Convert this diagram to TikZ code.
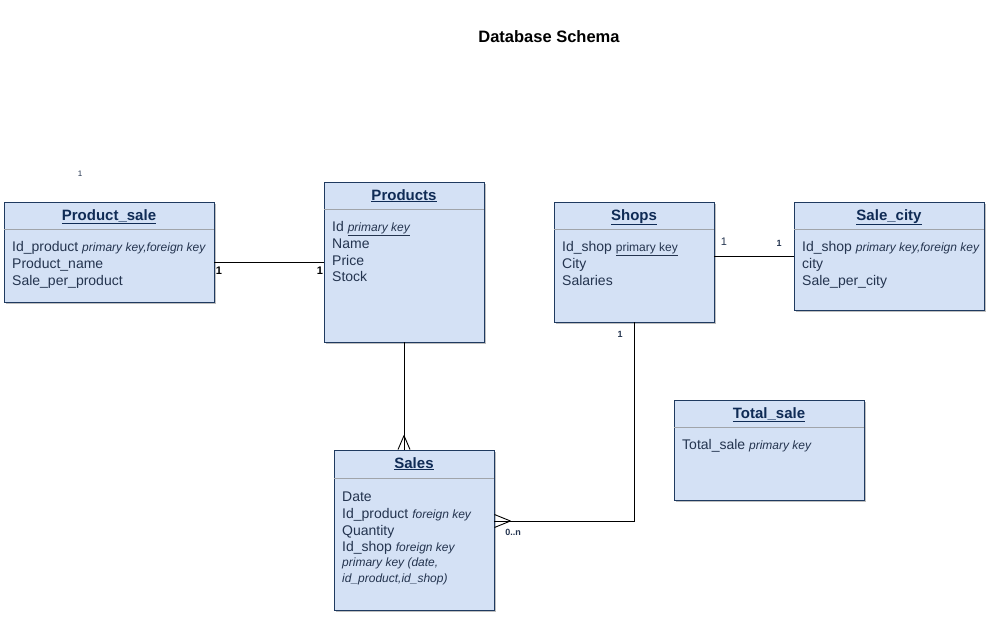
\documentclass[tikz,border=0pt]{standalone}
\usepackage{fontspec}
\setmainfont{Liberation Sans}
\usetikzlibrary{shadows}
\definecolor{boxfill}{HTML}{D4E1F5}
\definecolor{boxline}{HTML}{1F3A60}
\definecolor{txt}{HTML}{24344F}
\definecolor{hdr}{HTML}{0F2B55}
\definecolor{sepc}{HTML}{A0A4AA}
\newcommand\kw[1]{{\fontsize{12}{14}\selectfont\itshape #1}}
\newcommand\ukw[1]{{\fontsize{12}{14}\selectfont #1}}
\begin{document}
\begin{tikzpicture}[x=1pt,y=-1pt,
  tbl/.style={draw=boxline,fill=boxfill,line width=0.9pt,inner sep=0pt,
    drop shadow={shadow xshift=2pt,shadow yshift=-2pt,opacity=0.25,fill=black}},
  sepline/.style={draw=sepc,line width=0.9pt},
  hdrtext/.style={anchor=base,inner sep=0pt,text=hdr,font=\fontsize{15}{17}\selectfont\bfseries},
  attr/.style={anchor=base west,inner sep=0pt,text=txt,font=\fontsize{14}{17}\selectfont},
  conn/.style={draw=black,line width=0.9pt},
  card/.style={inner sep=0pt,font=\fontsize{9}{10}\selectfont\bfseries,text=txt},
]
\useasboundingbox (0,0) rectangle (991,618);
\fill[white] (0,0) rectangle (991,618);

\node[inner sep=0pt,font=\fontsize{16.5}{19}\selectfont\bfseries] (title) at (549,37) {Database Schema};
\node[inner sep=0pt,font=\fontsize{8}{9}\selectfont,text=txt] (stray) at (80,174) {1};

% Product_sale
\node[tbl,minimum width=210pt,minimum height=100pt] (ps) at (109,252) {};
\draw[sepline] ([yshift=-28pt]ps.north west) -- ([yshift=-28pt]ps.north east);
\node[hdrtext] (psh) at (109,220) {\underline{Product\_sale}};
\node[attr] (ps1) at (12,251) {Id\_product \kw{primary key,foreign key}};
\node[attr] (ps2) at (12,268) {Product\_name};
\node[attr] (ps3) at (12,285) {Sale\_per\_product};

% Products
\node[tbl,minimum width=160pt,minimum height=160pt] (pr) at (404,262) {};
\draw[sepline] ([yshift=-28pt]pr.north west) -- ([yshift=-28pt]pr.north east);
\node[hdrtext] (prh) at (404,200) {\underline{Products}};
\node[attr] (pr1) at (332,231) {Id \kw{\underline{primary key}}};
\node[attr] (pr2) at (332,248) {Name};
\node[attr] (pr3) at (332,265) {Price};
\node[attr] (pr4) at (332,281) {Stock};

% Shops
\node[tbl,minimum width=160pt,minimum height=120pt] (sh) at (634,262) {};
\draw[sepline] ([yshift=-28pt]sh.north west) -- ([yshift=-28pt]sh.north east);
\node[hdrtext] (shh) at (634,220) {\underline{Shops}};
\node[attr] (sh1) at (562,251) {Id\_shop \ukw{\underline{primary key}}};
\node[attr] (sh2) at (562,268) {City};
\node[attr] (sh3) at (562,285) {Salaries};

% Sale_city
\node[tbl,minimum width=190pt,minimum height=108pt] (sc) at (889,256) {};
\draw[sepline] ([yshift=-28pt]sc.north west) -- ([yshift=-28pt]sc.north east);
\node[hdrtext] (sch) at (889,220) {\underline{Sale\_city}};
\node[attr] (sc1) at (802,251) {Id\_shop \kw{primary key,foreign key}};
\node[attr] (sc2) at (802,268) {city};
\node[attr] (sc3) at (802,285) {Sale\_per\_city};

% Sales
\node[tbl,minimum width=160pt,minimum height=160pt] (sa) at (414,530) {};
\draw[sepline] ([yshift=-29pt]sa.north west) -- ([yshift=-29pt]sa.north east);
\node[hdrtext] (sah) at (414,468) {\underline{Sales}};
\node[attr] (sa1) at (342,501) {Date};
\node[attr] (sa2) at (342,518) {Id\_product \kw{foreign key}};
\node[attr] (sa3) at (342,535) {Quantity};
\node[attr] (sa4) at (342,551) {Id\_shop \kw{foreign key}};
\node[attr] (sa5) at (342,566) {\kw{primary key (date,}};
\node[attr] (sa6) at (342,582) {\kw{id\_product,id\_shop)}};

% Total_sale
\node[tbl,minimum width=190pt,minimum height=100pt] (ts) at (769,450) {};
\draw[sepline] ([yshift=-28pt]ts.north west) -- ([yshift=-28pt]ts.north east);
\node[hdrtext] (tsh) at (769,418) {\underline{Total\_sale}};
\node[attr] (ts1) at (682,449) {Total\_sale \kw{primary key}};

% Product_sale -- Products
\draw[conn] (ps.east |- pr.west) -- (pr.west);
\node[card,font=\fontsize{11}{12}\selectfont\bfseries,text=black] (c1) at (219,271) {1};
\node[card,font=\fontsize{11}{12}\selectfont\bfseries,text=black] (c2) at (320,271) {1};

% Shops -- Sale_city
\draw[conn] (sh.east |- sc.west) -- (sc.west);
\node[card,font=\fontsize{11}{12}\selectfont,text=txt] (c3) at (724,242) {1};
\node[card] (c4) at (779,243) {1};

% Products -- Sales
\coordinate (saT) at (pr.south |- sa.north);
\draw[conn] (pr.south) -- (saT);
\draw[conn] ([yshift=14pt]saT) -- ([xshift=-6pt]saT);
\draw[conn] ([yshift=14pt]saT) -- ([xshift=6pt]saT);

% Shops -- Sales
\coordinate (saR) at ([yshift=9pt]sa.east);
\draw[conn] (sh.south) -- (sh.south |- saR) -- (saR);
\draw[conn] ([xshift=16pt]saR) -- ([yshift=6.5pt]saR);
\draw[conn] ([xshift=16pt]saR) -- ([yshift=-6.5pt]saR);
\node[card] (c5) at (620,334) {1};
\node[card] (c6) at (513,532) {0..n};
\end{tikzpicture}
\end{document}
